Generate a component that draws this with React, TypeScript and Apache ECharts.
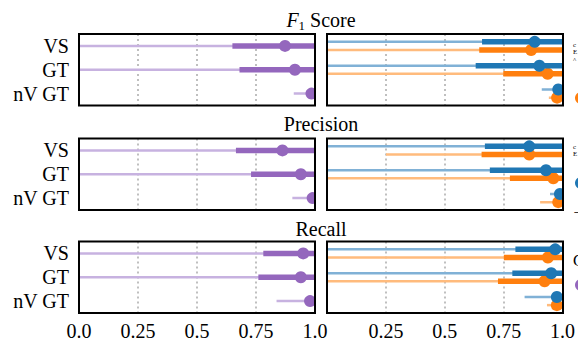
import React, { useEffect, useRef } from "react";
import * as echarts from "echarts";

const categories = ["VS", "GT", "nV GT"];
const metricTitles = ["{i|F}{s|1} Score", "Precision", "Recall"];
const tickLabels = ["0.0", "0.25", "0.5", "0.75", "1.0"];
const upperValue = 1.0;

// rows: [F1, Precision, Recall]; columns: [VS, GT, nV GT]
const purpleLow = [[0, 0, 0.91], [0, 0, 0.904], [0, 0, 0.837]];
const purpleQ1 = [[0.65, 0.68, 0.975], [0.665, 0.729, 0.98], [0.781, 0.76, 0.97]];
const purpleMed = [[0.873, 0.915, 0.985], [0.862, 0.94, 0.99], [0.95, 0.94, 0.979]];

const blueLow = [[0, 0, 0.91], [0, 0, 0.945], [0, 0, 0.839]];
const blueQ1 = [[0.657, 0.63, 0.97], [0.669, 0.69, 0.98], [0.8, 0.787, 0.97]];
const blueMed = [[0.88, 0.9, 0.98], [0.857, 0.928, 0.987], [0.969, 0.952, 0.976]];

const orangeLow = [[0, 0, 0.94], [0.25, 0, 0.903], [0, 0, 0.934]];
const orangeQ1 = [[0.645, 0.747, 0.965], [0.655, 0.775, 0.97], [0.751, 0.726, 0.97]];
const orangeMed = [[0.865, 0.935, 0.975], [0.857, 0.959, 0.98], [0.938, 0.924, 0.976]];

const FONT = "'Liberation Serif', 'DejaVu Serif', serif";
const COL_X = [79, 327];
const PANEL_W = 236;
const ROW_Y = [34, 138.5, 241.5];
const PANEL_H = 71.5;
const TITLE_Y = [20, 124, 229];

function makeSeries(g: number, low: number[], q1: number[], med: number[], light: string, dark: string, offset: number) {
  return {
    type: "custom",
    xAxisIndex: g,
    yAxisIndex: g,
    clip: true,
    data: categories.map((_, i) => [low[i], upperValue, q1[i], upperValue, med[i], i]),
    encode: { x: [0, 1, 2, 3, 4], y: 5 },
    renderItem: (params: any, api: any) => {
      const idx = api.value(5);
      const band = api.size([0, 1])[1];
      const dy = offset * band;
      const p = (v: number) => {
        const c = api.coord([v, idx]);
        return [c[0], c[1] + dy];
      };
      const a = p(api.value(0));
      const b = p(api.value(1));
      const c = p(api.value(2));
      const d = p(api.value(3));
      const m = p(api.value(4));
      return {
        type: "group",
        children: [
          { type: "line", shape: { x1: a[0], y1: a[1], x2: b[0], y2: b[1] }, style: { stroke: light, lineWidth: 2.5 } },
          { type: "line", shape: { x1: c[0], y1: c[1], x2: d[0], y2: d[1] }, style: { stroke: dark, lineWidth: 5.5 } },
          { type: "circle", shape: { cx: m[0], cy: m[1], r: 6 }, style: { fill: dark } },
        ],
      };
    },
  };
}

export default function App() {
  const ref = useRef<HTMLDivElement>(null);
  useEffect(() => {
    if (!ref.current) return;
    const chart = echarts.init(ref.current, null, { renderer: "svg" });
    const grids: any[] = [];
    const xAxes: any[] = [];
    const yAxes: any[] = [];
    const series: any[] = [];
    const graphics: any[] = [];
    for (let r = 0; r < 3; r++) {
      for (let c = 0; c < 2; c++) {
        const g = r * 2 + c;
        grids.push({ left: COL_X[c], top: ROW_Y[r], width: PANEL_W, height: PANEL_H, show: false });
        xAxes.push({
          gridIndex: g,
          type: "value",
          min: 0,
          max: 1,
          interval: 0.25,
          axisLine: { show: false },
          axisTick: { show: false },
          splitLine: { show: true, lineStyle: { type: [2, 3], color: "#aaaaaa", width: 1.5 } },
          axisLabel: {
            show: r === 2,
            fontSize: 20,
            fontFamily: FONT,
            color: "#000",
            margin: 8,
            formatter: (v: number) => (c === 1 && v === 0 ? "" : tickLabels[Math.round(v * 4)]),
          },
        });
        yAxes.push({
          gridIndex: g,
          type: "category",
          data: categories,
          inverse: true,
          boundaryGap: true,
          axisLine: { show: false },
          axisTick: { show: false },
          splitLine: { show: false },
          axisLabel: { show: c === 0, interval: 0, fontSize: 20, fontFamily: FONT, color: "#000", margin: 10 },
        });
        if (c === 0) {
          series.push(makeSeries(g, purpleLow[r], purpleQ1[r], purpleMed[r], "#c7b2e0", "#9467bd", 0));
        } else {
          series.push(makeSeries(g, orangeLow[r], orangeQ1[r], orangeMed[r], "#ffbb7d", "#ff7f0e", 0.17));
          series.push(makeSeries(g, blueLow[r], blueQ1[r], blueMed[r], "#80b1d6", "#1f77b4", -0.17));
        }
        graphics.push({
          type: "rect",
          z: 100,
          shape: { x: COL_X[c], y: ROW_Y[r], width: PANEL_W, height: PANEL_H },
          style: { fill: "none", stroke: "#000", lineWidth: 2 },
        });
      }
      graphics.push({
        type: "text",
        x: 321,
        y: TITLE_Y[r],
        style: {
          text: metricTitles[r],
          fontSize: 20,
          fontFamily: FONT,
          fill: "#000",
          align: "center",
          verticalAlign: "middle",
          rich: {
            i: { fontSize: 20, fontFamily: FONT, fontStyle: "italic", fill: "#000" },
            s: { fontSize: 13, fontFamily: FONT, fill: "#000", padding: [10, 0, 0, 0] },
          },
        },
      });
    }
    // legend fragments cut off at the right edge
    const frag = (t: string, x: number, y: number, size: number, lh: number) => ({
      type: "text",
      x,
      y,
      style: { text: t, fontSize: size, lineHeight: lh, fontFamily: FONT, fill: "#000", verticalAlign: "top" },
    });
    graphics.push(frag("c\nE\n^", 573, 41, 7, 7.5));
    graphics.push(frag("c\nE", 573, 143, 7, 7.5));
    graphics.push(frag("⊣", 573, 206, 10, 12));
    graphics.push(frag("C", 573, 252, 16, 16));
    graphics.push({ type: "circle", shape: { cx: 581, cy: 98, r: 6 }, style: { fill: "#ff7f0e" } });
    graphics.push({ type: "circle", shape: { cx: 581, cy: 183, r: 6 }, style: { fill: "#1f77b4" } });
    graphics.push({ type: "circle", shape: { cx: 581, cy: 285, r: 6 }, style: { fill: "#9467bd" } });

    chart.setOption({
      animation: false,
      backgroundColor: "#fff",
      grid: grids,
      xAxis: xAxes,
      yAxis: yAxes,
      series,
      graphic: graphics,
    });
    return () => chart.dispose();
  }, []);
  return <div ref={ref} style={{ position: "absolute", left: 0, top: 0, width: 578, height: 341 }} />;
}
